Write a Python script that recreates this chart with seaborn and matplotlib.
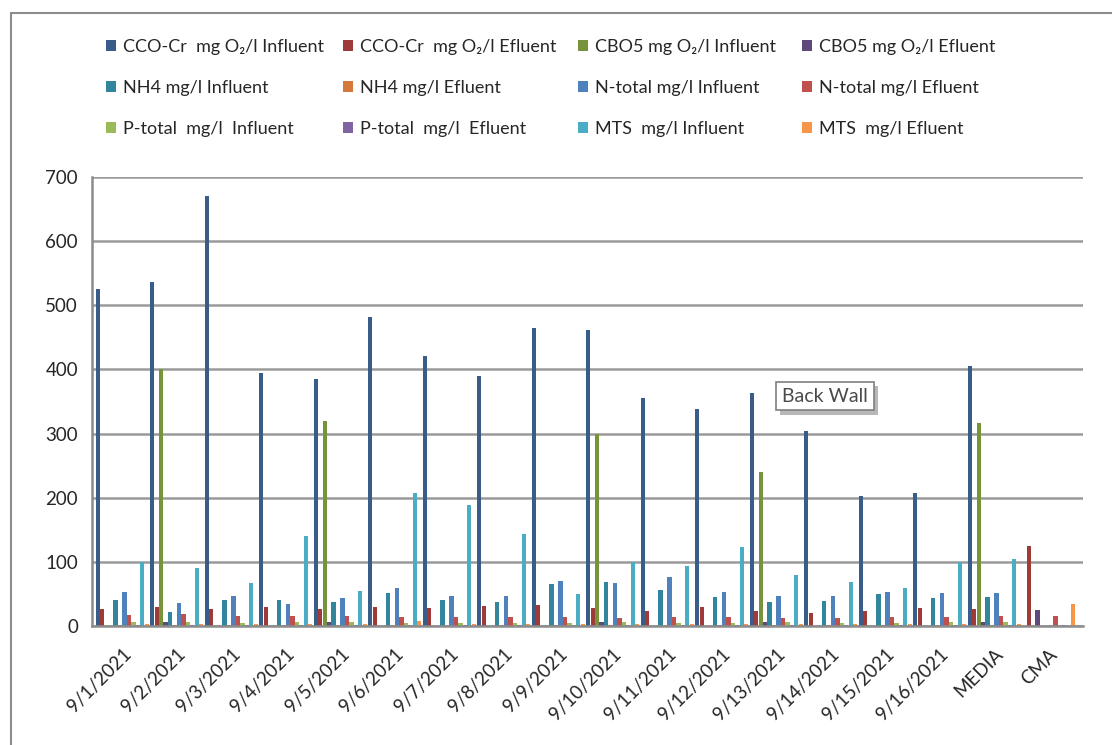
import numpy as np
import pandas as pd
import matplotlib
matplotlib.use("Agg")
import matplotlib.pyplot as plt
import matplotlib.patheffects as pe
from matplotlib.lines import Line2D
import seaborn as sns

# Sampling days plus the average (MEDIA) and the legal limit (CMA)
categories = ["9/1/2021", "9/2/2021", "9/3/2021", "9/4/2021", "9/5/2021",
              "9/6/2021", "9/7/2021", "9/8/2021", "9/9/2021", "9/10/2021",
              "9/11/2021", "9/12/2021", "9/13/2021", "9/14/2021", "9/15/2021",
              "9/16/2021", "MEDIA", "CMA"]

cco_in = [526, 537, 671, 395, 385, 481, 421, 389, 465, 462, 356, 338, 364, 304, 203, 208, 406, 0]
cco_ef = [27, 30, 26, 29, 27, 30, 28, 31, 32, 28, 24, 29, 24, 21, 24, 28, 27, 125]
cbo5_in = [0, 400, 0, 0, 320, 0, 0, 0, 0, 300, 0, 0, 240, 0, 0, 0, 316, 0]
cbo5_ef = [0, 7, 0, 0, 6, 0, 0, 0, 0, 6, 0, 0, 6, 0, 0, 0, 6, 25]
nh4_in = [41, 22, 40, 40, 37, 51, 41, 37, 66, 69, 56, 45, 37, 39, 50, 43, 45, 0]
nh4_ef = [1, 1, 1, 1, 1, 1, 1, 1, 1, 1, 1, 1, 1, 1, 1, 1, 1, 0]
ntot_in = [53, 36, 47, 35, 43, 60, 47, 46, 70, 67, 76, 53, 46, 46, 53, 51, 52, 0]
ntot_ef = [17, 18, 16, 15, 15, 14, 14, 14, 14, 13, 14, 14, 13, 13, 14, 14, 15, 15]
ptot_in = [6, 6, 5, 7, 6, 5, 5, 5, 5, 6, 5, 5, 6, 5, 5, 6, 6, 0]
ptot_ef = [1, 1, 1, 1, 1, 1, 1, 1, 1, 1, 1, 1, 1, 1, 1, 1, 1, 2]
mts_in = [99, 90, 67, 140, 55, 208, 188, 144, 50, 99, 94, 123, 79, 69, 59, 99, 104, 0]
mts_ef = [3, 3, 3, 3, 3, 8, 3, 3, 3, 3, 3, 3, 3, 3, 3, 3, 3, 35]

series_names = ["CCO-Cr  mg O₂/l Influent", "CCO-Cr  mg O₂/l Efluent",
                "CBO5 mg O₂/l Influent", "CBO5 mg O₂/l Efluent",
                "NH4 mg/l Influent", "NH4 mg/l Efluent",
                "N-total mg/l Influent", "N-total mg/l Efluent",
                "P-total  mg/l  Influent", "P-total  mg/l  Efluent",
                "MTS  mg/l Influent", "MTS  mg/l Efluent"]
series_values = [cco_in, cco_ef, cbo5_in, cbo5_ef, nh4_in, nh4_ef,
                 ntot_in, ntot_ef, ptot_in, ptot_ef, mts_in, mts_ef]
colors = ["#385D8A", "#9E3A38", "#77933C", "#5F497A", "#31859C", "#D5783A",
          "#4F81BD", "#C0504D", "#9BBB59", "#8064A2", "#4BACC6", "#F79646"]

y_ticks = [0, 100, 200, 300, 400, 500, 600, 700]

rows = []
for name, vals in zip(series_names, series_values):
    for cat, v in zip(categories, vals):
        rows.append({"cat": cat, "series": name, "value": v})
df = pd.DataFrame(rows)

sns.set_theme(style="white")
plt.rcParams["font.family"] = ["Lato", "DejaVu Sans"]

W, H = 1112, 745
fig = plt.figure(figsize=(W / 100, H / 100), dpi=100)
ax = fig.add_axes([92 / W, 1 - 626 / H, (1083 - 92) / W, (626 - 177) / H])

sns.barplot(data=df, x="cat", y="value", hue="series", hue_order=series_names,
            order=categories, palette=colors, width=0.98, gap=0.04,
            linewidth=0, saturation=1, errorbar=None, ax=ax)

handles, labels = ax.get_legend_handles_labels()
if ax.legend_ is not None:
    ax.legend_.remove()

unit = (1076 - 95) / 18
ax.set_xlim(-0.5 - 3 / unit, 17.5 + 7 / unit)
ax.set_ylim(0, 700)
ax.set_yticks(y_ticks)
ax.set_yticklabels([str(t) for t in y_ticks], fontsize=13.5, color="#262626")
ax.set_xticks(range(len(categories)))
ax.set_xticklabels(categories, rotation=45, ha="right", rotation_mode="anchor",
                   fontsize=13.5, color="#262626")
ax.set_xticks(np.arange(-0.5, len(categories), 1), minor=True)
ax.tick_params(axis="x", which="major", length=0, pad=14)
ax.tick_params(axis="x", which="minor", length=6, width=1.2, color="#8c8c8c",
               direction="out")
ax.tick_params(axis="y", length=5, width=1.2, color="#8c8c8c", direction="out", pad=5)
ax.set_xlabel("")
ax.set_ylabel("")

ax.grid(axis="y", color="#9a9a9a", linewidth=1.8)
ax.set_axisbelow(True)
for side in ["top", "right"]:
    ax.spines[side].set_visible(False)
for side in ["left", "bottom"]:
    ax.spines[side].set_color("#8c8c8c")
    ax.spines[side].set_linewidth(1.8)

# Legend: four columns of three entries each
col_x = [106, 343, 578, 802]
for c in range(4):
    idx = [c, c + 4, c + 8]
    leg = fig.legend([handles[i] for i in idx], [labels[i] for i in idx],
                     loc="upper left", bbox_to_anchor=(col_x[c] / W, 1 - 39 / H),
                     frameon=False, fontsize=13, handlelength=0.55,
                     handleheight=0.55, handletextpad=0.4, borderpad=0,
                     borderaxespad=0, labelspacing=1.38)
    for t in leg.get_texts():
        t.set_color("#262626")

# Hover label box
txt = fig.text(825 / W, 1 - 396 / H, "Back Wall", fontsize=14, color="#4a4a4a",
               ha="center", va="center",
               bbox=dict(boxstyle="square,pad=0.3", fc="white", ec="#7f7f7f", lw=1.2))
txt.get_bbox_patch().set_path_effects([
    pe.SimplePatchShadow(offset=(3, -3), shadow_rgbFace="#8a8a8a", alpha=0.6),
    pe.Normal()])

# Chart-area border
fig.add_artist(Line2D([11 / W, 11 / W], [0, 1 - 13 / H], transform=fig.transFigure,
                      color="#8c8c8c", linewidth=1.5))
fig.add_artist(Line2D([11 / W, 1], [1 - 13 / H, 1 - 13 / H], transform=fig.transFigure,
                      color="#8c8c8c", linewidth=1.5))

fig.savefig("out.png", dpi=100, facecolor="white")
